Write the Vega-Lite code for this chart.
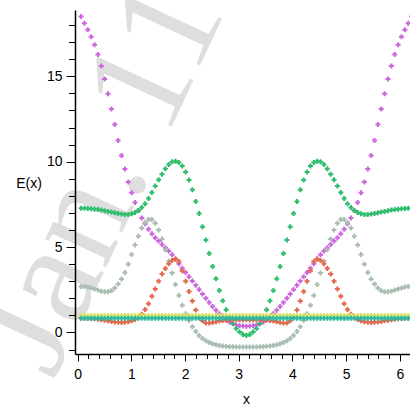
{
"$schema": "https://vega.github.io/schema/vega-lite/v6.json",
"width": 335,
"height": 344,
"autosize": "none",
"padding": {"left": 75, "top": 10, "right": 0, "bottom": 51},
"background": "white",
"config": {"view": {"stroke": null}},
"datasets": {
"wm": [{"label": "Jan. 11", "x": -0.456, "E": -2.83}],
"bands": [
{"x":0.0628,"s1":18.50,"s2":7.28,"s3":2.69,"s4":0.84,"s5":1.0,"s6":0.84},
{"x":0.1257,"s1":18.11,"s2":7.28,"s3":2.69,"s4":0.84,"s5":1.0,"s6":0.84},
{"x":0.1885,"s1":17.72,"s2":7.26,"s3":2.66,"s4":0.83,"s5":1.0,"s6":0.84},
{"x":0.2513,"s1":17.31,"s2":7.24,"s3":2.60,"s4":0.82,"s5":1.0,"s6":0.84},
{"x":0.3142,"s1":16.85,"s2":7.22,"s3":2.54,"s4":0.80,"s5":1.0,"s6":0.84},
{"x":0.3770,"s1":16.28,"s2":7.20,"s3":2.48,"s4":0.78,"s5":1.0,"s6":0.84},
{"x":0.4398,"s1":15.60,"s2":7.17,"s3":2.42,"s4":0.75,"s5":1.0,"s6":0.84},
{"x":0.5027,"s1":14.84,"s2":7.13,"s3":2.38,"s4":0.72,"s5":1.0,"s6":0.84},
{"x":0.5655,"s1":13.98,"s2":7.09,"s3":2.38,"s4":0.68,"s5":1.0,"s6":0.84},
{"x":0.6283,"s1":13.08,"s2":7.05,"s3":2.44,"s4":0.65,"s5":1.0,"s6":0.84},
{"x":0.6912,"s1":12.18,"s2":7.01,"s3":2.60,"s4":0.62,"s5":1.0,"s6":0.84},
{"x":0.7540,"s1":11.24,"s2":6.97,"s3":2.84,"s4":0.60,"s5":1.0,"s6":0.84},
{"x":0.8168,"s1":10.36,"s2":6.93,"s3":3.13,"s4":0.59,"s5":1.0,"s6":0.84},
{"x":0.8796,"s1":9.57,"s2":6.91,"s3":3.51,"s4":0.60,"s5":1.0,"s6":0.84},
{"x":0.9425,"s1":8.81,"s2":6.91,"s3":4.00,"s4":0.63,"s5":1.0,"s6":0.84},
{"x":1.0053,"s1":8.18,"s2":6.95,"s3":4.57,"s4":0.68,"s5":1.0,"s6":0.84},
{"x":1.0681,"s1":7.61,"s2":7.03,"s3":5.12,"s4":0.76,"s5":1.0,"s6":0.84},
{"x":1.1310,"s1":7.14,"s2":7.14,"s3":5.64,"s4":0.88,"s5":1.0,"s6":0.84},
{"x":1.1938,"s1":6.70,"s2":7.32,"s3":6.11,"s4":1.06,"s5":1.0,"s6":0.84},
{"x":1.2566,"s1":6.36,"s2":7.54,"s3":6.44,"s4":1.35,"s5":1.0,"s6":0.84},
{"x":1.3195,"s1":6.05,"s2":7.85,"s3":6.62,"s4":1.68,"s5":1.0,"s6":0.84},
{"x":1.3823,"s1":5.78,"s2":8.20,"s3":6.62,"s4":2.12,"s5":1.0,"s6":0.84},
{"x":1.4451,"s1":5.54,"s2":8.57,"s3":6.40,"s4":2.55,"s5":1.0,"s6":0.84},
{"x":1.5080,"s1":5.35,"s2":8.94,"s3":6.00,"s4":3.00,"s5":1.0,"s6":0.84},
{"x":1.5708,"s1":5.15,"s2":9.27,"s3":5.47,"s4":3.42,"s5":1.0,"s6":0.84},
{"x":1.6336,"s1":4.96,"s2":9.58,"s3":4.85,"s4":3.75,"s5":1.0,"s6":0.84},
{"x":1.6965,"s1":4.77,"s2":9.84,"s3":4.17,"s4":4.02,"s5":1.0,"s6":0.84},
{"x":1.7593,"s1":4.55,"s2":9.99,"s3":3.48,"s4":4.22,"s5":1.0,"s6":0.84},
{"x":1.8221,"s1":4.30,"s2":10.03,"s3":2.81,"s4":4.30,"s5":1.0,"s6":0.84},
{"x":1.8850,"s1":4.02,"s2":9.95,"s3":2.17,"s4":4.15,"s5":1.0,"s6":0.84},
{"x":1.9478,"s1":3.76,"s2":9.74,"s3":1.60,"s4":3.62,"s5":1.0,"s6":0.84},
{"x":2.0106,"s1":3.51,"s2":9.39,"s3":1.10,"s4":3.00,"s5":1.0,"s6":0.84},
{"x":2.0735,"s1":3.27,"s2":8.92,"s3":0.70,"s4":2.40,"s5":1.0,"s6":0.84},
{"x":2.1363,"s1":3.02,"s2":8.35,"s3":0.34,"s4":1.84,"s5":1.0,"s6":0.84},
{"x":2.1991,"s1":2.76,"s2":7.67,"s3":0.05,"s4":1.32,"s5":1.0,"s6":0.84},
{"x":2.2619,"s1":2.51,"s2":6.97,"s3":-0.18,"s4":0.90,"s5":1.0,"s6":0.84},
{"x":2.3248,"s1":2.26,"s2":6.19,"s3":-0.35,"s4":0.68,"s5":1.0,"s6":0.84},
{"x":2.3876,"s1":2.00,"s2":5.41,"s3":-0.49,"s4":0.56,"s5":1.0,"s6":0.84},
{"x":2.4504,"s1":1.76,"s2":4.63,"s3":-0.59,"s4":0.55,"s5":1.0,"s6":0.84},
{"x":2.5133,"s1":1.52,"s2":3.86,"s3":-0.66,"s4":0.58,"s5":1.0,"s6":0.84},
{"x":2.5761,"s1":1.30,"s2":3.14,"s3":-0.72,"s4":0.63,"s5":1.0,"s6":0.84},
{"x":2.6389,"s1":1.10,"s2":2.46,"s3":-0.76,"s4":0.67,"s5":1.0,"s6":0.84},
{"x":2.7018,"s1":0.92,"s2":1.86,"s3":-0.79,"s4":0.70,"s5":1.0,"s6":0.84},
{"x":2.7646,"s1":0.76,"s2":1.33,"s3":-0.81,"s4":0.72,"s5":1.0,"s6":0.84},
{"x":2.8274,"s1":0.62,"s2":0.90,"s3":-0.83,"s4":0.73,"s5":1.0,"s6":0.84},
{"x":2.8903,"s1":0.51,"s2":0.53,"s3":-0.84,"s4":0.74,"s5":1.0,"s6":0.84},
{"x":2.9531,"s1":0.44,"s2":0.24,"s3":-0.85,"s4":0.74,"s5":1.0,"s6":0.84},
{"x":3.0159,"s1":0.40,"s2":0.03,"s3":-0.85,"s4":0.75,"s5":1.0,"s6":0.84},
{"x":3.0788,"s1":0.38,"s2":-0.12,"s3":-0.85,"s4":0.75,"s5":1.0,"s6":0.84},
{"x":3.1416,"s1":0.37,"s2":-0.17,"s3":-0.85,"s4":0.75,"s5":1.0,"s6":0.84},
{"x":3.2044,"s1":0.38,"s2":-0.12,"s3":-0.85,"s4":0.75,"s5":1.0,"s6":0.84},
{"x":3.2673,"s1":0.40,"s2":0.03,"s3":-0.85,"s4":0.75,"s5":1.0,"s6":0.84},
{"x":3.3301,"s1":0.44,"s2":0.24,"s3":-0.85,"s4":0.74,"s5":1.0,"s6":0.84},
{"x":3.3929,"s1":0.51,"s2":0.53,"s3":-0.84,"s4":0.74,"s5":1.0,"s6":0.84},
{"x":3.4558,"s1":0.62,"s2":0.90,"s3":-0.83,"s4":0.73,"s5":1.0,"s6":0.84},
{"x":3.5186,"s1":0.76,"s2":1.33,"s3":-0.81,"s4":0.72,"s5":1.0,"s6":0.84},
{"x":3.5814,"s1":0.92,"s2":1.86,"s3":-0.79,"s4":0.70,"s5":1.0,"s6":0.84},
{"x":3.6442,"s1":1.10,"s2":2.46,"s3":-0.76,"s4":0.67,"s5":1.0,"s6":0.84},
{"x":3.7071,"s1":1.30,"s2":3.14,"s3":-0.72,"s4":0.63,"s5":1.0,"s6":0.84},
{"x":3.7699,"s1":1.52,"s2":3.86,"s3":-0.66,"s4":0.58,"s5":1.0,"s6":0.84},
{"x":3.8327,"s1":1.76,"s2":4.63,"s3":-0.59,"s4":0.55,"s5":1.0,"s6":0.84},
{"x":3.8956,"s1":2.00,"s2":5.41,"s3":-0.49,"s4":0.56,"s5":1.0,"s6":0.84},
{"x":3.9584,"s1":2.26,"s2":6.19,"s3":-0.35,"s4":0.68,"s5":1.0,"s6":0.84},
{"x":4.0212,"s1":2.51,"s2":6.97,"s3":-0.18,"s4":0.90,"s5":1.0,"s6":0.84},
{"x":4.0841,"s1":2.76,"s2":7.67,"s3":0.05,"s4":1.32,"s5":1.0,"s6":0.84},
{"x":4.1469,"s1":3.02,"s2":8.35,"s3":0.34,"s4":1.84,"s5":1.0,"s6":0.84},
{"x":4.2097,"s1":3.27,"s2":8.92,"s3":0.70,"s4":2.40,"s5":1.0,"s6":0.84},
{"x":4.2726,"s1":3.51,"s2":9.39,"s3":1.10,"s4":3.00,"s5":1.0,"s6":0.84},
{"x":4.3354,"s1":3.76,"s2":9.74,"s3":1.60,"s4":3.62,"s5":1.0,"s6":0.84},
{"x":4.3982,"s1":4.02,"s2":9.95,"s3":2.17,"s4":4.15,"s5":1.0,"s6":0.84},
{"x":4.4611,"s1":4.30,"s2":10.03,"s3":2.81,"s4":4.30,"s5":1.0,"s6":0.84},
{"x":4.5239,"s1":4.55,"s2":9.99,"s3":3.48,"s4":4.22,"s5":1.0,"s6":0.84},
{"x":4.5867,"s1":4.77,"s2":9.84,"s3":4.17,"s4":4.02,"s5":1.0,"s6":0.84},
{"x":4.6496,"s1":4.96,"s2":9.58,"s3":4.85,"s4":3.75,"s5":1.0,"s6":0.84},
{"x":4.7124,"s1":5.15,"s2":9.27,"s3":5.47,"s4":3.42,"s5":1.0,"s6":0.84},
{"x":4.7752,"s1":5.35,"s2":8.94,"s3":6.00,"s4":3.00,"s5":1.0,"s6":0.84},
{"x":4.8381,"s1":5.54,"s2":8.57,"s3":6.40,"s4":2.55,"s5":1.0,"s6":0.84},
{"x":4.9009,"s1":5.78,"s2":8.20,"s3":6.62,"s4":2.12,"s5":1.0,"s6":0.84},
{"x":4.9637,"s1":6.05,"s2":7.85,"s3":6.62,"s4":1.68,"s5":1.0,"s6":0.84},
{"x":5.0265,"s1":6.36,"s2":7.54,"s3":6.44,"s4":1.35,"s5":1.0,"s6":0.84},
{"x":5.0894,"s1":6.70,"s2":7.32,"s3":6.11,"s4":1.06,"s5":1.0,"s6":0.84},
{"x":5.1522,"s1":7.14,"s2":7.14,"s3":5.64,"s4":0.88,"s5":1.0,"s6":0.84},
{"x":5.2150,"s1":7.61,"s2":7.03,"s3":5.12,"s4":0.76,"s5":1.0,"s6":0.84},
{"x":5.2779,"s1":8.18,"s2":6.95,"s3":4.57,"s4":0.68,"s5":1.0,"s6":0.84},
{"x":5.3407,"s1":8.81,"s2":6.91,"s3":4.00,"s4":0.63,"s5":1.0,"s6":0.84},
{"x":5.4035,"s1":9.57,"s2":6.91,"s3":3.51,"s4":0.60,"s5":1.0,"s6":0.84},
{"x":5.4664,"s1":10.36,"s2":6.93,"s3":3.13,"s4":0.59,"s5":1.0,"s6":0.84},
{"x":5.5292,"s1":11.24,"s2":6.97,"s3":2.84,"s4":0.60,"s5":1.0,"s6":0.84},
{"x":5.5920,"s1":12.18,"s2":7.01,"s3":2.60,"s4":0.62,"s5":1.0,"s6":0.84},
{"x":5.6549,"s1":13.08,"s2":7.05,"s3":2.44,"s4":0.65,"s5":1.0,"s6":0.84},
{"x":5.7177,"s1":13.98,"s2":7.09,"s3":2.38,"s4":0.68,"s5":1.0,"s6":0.84},
{"x":5.7805,"s1":14.84,"s2":7.13,"s3":2.38,"s4":0.72,"s5":1.0,"s6":0.84},
{"x":5.8434,"s1":15.60,"s2":7.17,"s3":2.42,"s4":0.75,"s5":1.0,"s6":0.84},
{"x":5.9062,"s1":16.28,"s2":7.20,"s3":2.48,"s4":0.78,"s5":1.0,"s6":0.84},
{"x":5.9690,"s1":16.85,"s2":7.22,"s3":2.54,"s4":0.80,"s5":1.0,"s6":0.84},
{"x":6.0319,"s1":17.31,"s2":7.24,"s3":2.60,"s4":0.82,"s5":1.0,"s6":0.84},
{"x":6.0947,"s1":17.72,"s2":7.26,"s3":2.66,"s4":0.83,"s5":1.0,"s6":0.84},
{"x":6.1575,"s1":18.11,"s2":7.28,"s3":2.69,"s4":0.84,"s5":1.0,"s6":0.84},
{"x":6.2204,"s1":18.50,"s2":7.28,"s3":2.69,"s4":0.84,"s5":1.0,"s6":0.84}
]
},
"layer": [
{
"data": {"name": "wm"},
"mark": {"type": "text", "font": "Liberation Serif", "fontSize": 146, "angle": -65, "align": "left", "baseline": "alphabetic", "color": "#dedede", "clip": false},
"encoding": {
"x": {"field": "x", "type": "quantitative"},
"y": {"field": "E", "type": "quantitative"},
"text": {"field": "label"}
}
},
{
"data": {"name": "bands"},
"transform": [{"fold": ["s1", "s2", "s3", "s4", "s5", "s6"], "as": ["series", "E"]}],
"mark": {"type": "point", "shape": "cross", "filled": true, "size": 25, "opacity": 1, "clip": true},
"encoding": {
"x": {"field": "x", "type": "quantitative",
"scale": {"domain": [-0.05, 6.19], "nice": false, "zero": false},
"axis": {
"title": "x",
"values": [0,0.2,0.4,0.6,0.8,1,1.2,1.4,1.6,1.8,2,2.2,2.4,2.6,2.8,3,3.2,3.4,3.6,3.8,4,4.2,4.4,4.6,4.8,5,5.2,5.4,5.6,5.8,6],
"tickCount": 200,
"tickMinStep": 0.1,
"labelExpr": "abs(datum.value - round(datum.value)) < 0.001 ? format(round(datum.value), 'd') : ''",
"tickSize": {"condition": {"test": "abs(datum.value - round(datum.value)) < 0.001", "value": 7}, "value": 4.5},
"grid": false, "zindex": 1,
"domainColor": "black", "domainWidth": 1.5, "tickColor": "black", "tickWidth": 1,
"labelColor": "black", "labelFont": "Liberation Sans", "labelFontSize": 14, "labelPadding": 6,
"labelFlush": false, "labelOverlap": false, "labelBound": false,
"titleColor": "black", "titleFont": "Liberation Sans", "titleFontSize": 14, "titleFontWeight": "normal",
"titleX": 171, "titleY": 49, "titleBaseline": "alphabetic", "titleAlign": "center"
}
},
"y": {"field": "E", "type": "quantitative",
"scale": {"domain": [-1.26, 18.88], "nice": false, "zero": false},
"axis": {
"title": "E(x)",
"values": [-1,0,1,2,3,4,5,6,7,8,9,10,11,12,13,14,15,16,17,18],
"tickCount": 200,
"format": "d",
"labelExpr": "datum.value % 5 == 0 ? datum.label : ''",
"tickSize": {"condition": {"test": "datum.value % 5 == 0", "value": 9}, "value": 6.5},
"grid": false, "zindex": 1,
"domainColor": "black", "domainWidth": 1.5, "tickColor": "black", "tickWidth": 1,
"labelColor": "black", "labelFont": "Liberation Sans", "labelFontSize": 14, "labelPadding": 4,
"labelOverlap": false, "labelFlush": false, "labelBound": false,
"titleColor": "black", "titleFont": "Liberation Sans", "titleFontSize": 14, "titleFontWeight": "normal",
"titleAngle": 0, "titleX": -46.5, "titleY": 173, "titleAlign": "center", "titleBaseline": "middle"
}
},
"color": {"field": "series", "type": "nominal", "legend": null,
"scale": {"domain": ["s1", "s2", "s3", "s4", "s5", "s6"], "range": ["#cc66dd", "#2ebd6b", "#a9bdb1", "#e2694c", "#dde56a", "#2bb9a3"]}},
"order": {"field": "series", "type": "ordinal"}
}
}
]
}
